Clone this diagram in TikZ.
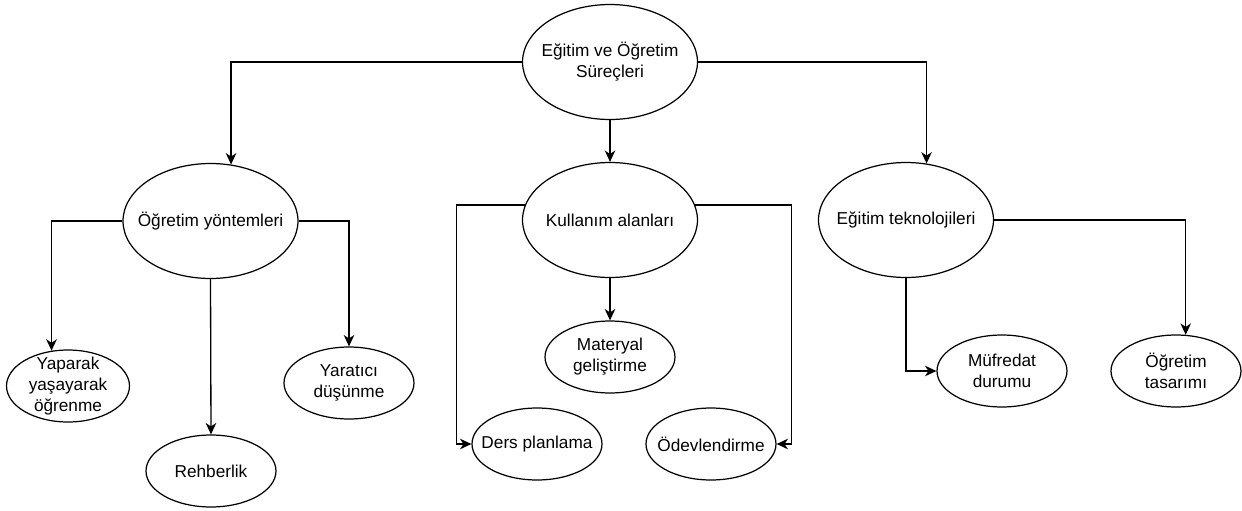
\documentclass[tikz,border=0pt]{standalone}
\usepackage{fontspec}
\setmainfont{Liberation Sans}
\usetikzlibrary{shapes.geometric, arrows.meta, calc}

\begin{document}
\begin{tikzpicture}[
        x=0.02cm, y=-0.02cm,
        bigoval/.style={ellipse, draw=black, fill=white, line width=0.7pt, minimum width=3.5cm, minimum height=2.3cm, inner sep=-20pt, align=center, font=\fontsize{9.8}{12}\selectfont},
        leaf/.style={bigoval, minimum width=2.6cm, minimum height=1.44cm},
        arr/.style={-{Stealth[length=6.5pt, width=6pt, inset=2pt]}, line width=0.75pt}
    ]
        \useasboundingbox (0,0) rectangle (1242,511);

        \node[bigoval] (root) at (610,62) {Eğitim ve Öğretim\\Süreçleri};
        \node[bigoval] (yontem) at (210.5,221) {Öğretim yöntemleri};
        \node[bigoval] (alan) at (610,220) {Kullanım alanları};
        \node[bigoval] (teknoloji) at (906,220) {Eğitim teknolojileri};

        \node[leaf, minimum width=2.46cm] (yaparak) at (68,386) {Yaparak\\yaşayarak\\öğrenme};
        \node[leaf] (rehber) at (211,471) {Rehberlik};
        \node[leaf] (yaratici) at (349,383) {Yaratıcı\\düşünme};
        \node[leaf] (materyal) at (610,357) {Materyal\\geliştirme};
        \node[leaf] (ders) at (537,444) {Ders planlama};
        \node[leaf] (odev) at (711,444) {Ödevlendirme};
        \node[leaf] (mufredat) at (1002,371) {Müfredat\\durumu};
        \node[leaf] (tasarim) at (1176,371) {Öğretim\\tasarımı};

        \draw[arr] (root.west) -| (yontem.70);
        \draw[arr] (root.south) -- (alan.north);
        \draw[arr] (root.east) -| (teknoloji.70);

        \draw[arr] (yontem.west) -| (yaparak.115);
        \draw[arr] (yontem.south) -- (rehber.north);
        \draw[arr] (yontem.east) -| (yaratici.north);

        \draw[arr] (alan.170) -| ($(ders.west)+(-15,0)$) -- (ders.west);
        \draw[arr] (alan.south) -- (materyal.north);
        \draw[arr] (alan.10) -| ($(odev.east)+(15,0)$) -- (odev.east);

        \draw[arr] (teknoloji.east) -| (tasarim.75);
        \draw[arr] (teknoloji.south) |- (mufredat.west);
    \end{tikzpicture}
\end{document}
